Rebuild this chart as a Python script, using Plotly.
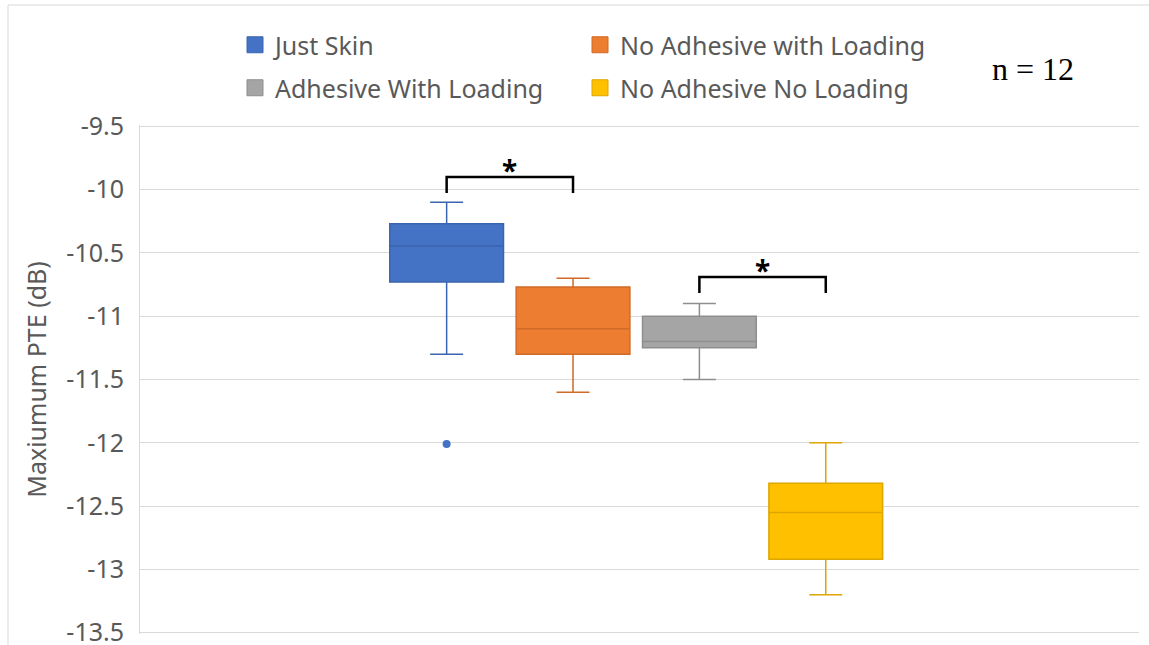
import plotly.graph_objects as go

# Summary statistics of maximum PTE (dB) per condition, n = 12 each
groups = ["Just Skin", "No Adhesive with Loading", "Adhesive With Loading", "No Adhesive No Loading"]
upper_whisker = [-10.10, -10.70, -10.90, -12.00]
q3 = [-10.27, -10.77, -11.00, -12.32]
median = [-10.445, -11.10, -11.20, -12.55]
q1 = [-10.73, -11.30, -11.25, -12.92]
lower_whisker = [-11.30, -11.60, -11.50, -13.20]
outliers = [[-12.01], [], [], []]

fill_colors = ["#4472C4", "#ED7D31", "#A5A5A5", "#FFC000"]
line_colors = ["#3B64AE", "#D06A27", "#8E8E8E", "#DDA600"]

y_ticks = [-9.5, -10, -10.5, -11, -11.5, -12, -12.5, -13, -13.5]
y_tick_labels = ["-9.5", "-10", "-10.5", "-11", "-11.5", "-12", "-12.5", "-13", "-13.5"]

# significance brackets between box pairs (indices into groups) and their heights
pairs = [(0, 1), (2, 3)]
bracket_top = [-9.90, -10.69]
bracket_drop = 0.127

BOXGAP = 0.494
GROUPGAP = 0.1
n = len(groups)
slot = (1 - BOXGAP) / n
centers = [(i - (n - 1) / 2) * slot for i in range(n)]

TEXT_GRAY = "#595959"
GRID = "#D9D9D9"
FONT = "Noto Sans"

# value range padded a hair so the end gridlines are drawn
Y_RANGE = [-13.51, -9.49]

# plot area in pixels, used to place items outside of it
PLOT_L, PLOT_T, PLOT_W, PLOT_H = 140, 125, 999, 509


def px_x(px):
    return (px - PLOT_L) / PLOT_W


def px_y(py):
    return 1 + (PLOT_T - py) / PLOT_H


fig = go.Figure()
for i, g in enumerate(groups):
    if outliers[i]:
        kw = dict(y=[outliers[i]], boxpoints="outliers")
    else:
        kw = dict(boxpoints=False)
    fig.add_trace(go.Box(
        name=g, x=[0], q1=[q1[i]], median=[median[i]], q3=[q3[i]],
        lowerfence=[lower_whisker[i]], upperfence=[upper_whisker[i]],
        fillcolor=fill_colors[i],
        line=dict(color=line_colors[i], width=1.5),
        marker=dict(color=fill_colors[i], size=8, line=dict(width=0)),
        whiskerwidth=0.29, pointpos=0, jitter=0,
        showlegend=False, hoverinfo="skip", **kw))

# legend entries as filled squares, two per row
for i, g in enumerate(groups):
    fig.add_trace(go.Scatter(
        x=[None], y=[None], mode="markers", name=g,
        marker=dict(symbol="square", size=16, color=fill_colors[i],
                    line=dict(color=line_colors[i], width=1)),
        legend="legend" if i < 2 else "legend2"))

shapes = []
annotations = []
for (a, b), top in zip(pairs, bracket_top):
    xa, xb = centers[a], centers[b]
    shapes.append(dict(
        type="path", xref="x", yref="y",
        path=f"M {xa},{top - bracket_drop} L {xa},{top} L {xb},{top} L {xb},{top - bracket_drop}",
        line=dict(color="black", width=2.5)))
    annotations.append(dict(
        x=(xa + xb) / 2, y=top, xref="x", yref="y", text="<b>*</b>", showarrow=False,
        xanchor="center", yanchor="bottom", yshift=-14,
        font=dict(family=FONT, size=28, color="black")))

annotations.append(dict(
    x=px_x(1033), y=px_y(69), xref="paper", yref="paper", text="n = 12",
    showarrow=False, xanchor="center", yanchor="middle",
    font=dict(family="Liberation Serif", size=32, color="black")))

# chart frame
shapes.append(dict(type="rect", xref="paper", yref="paper",
                   x0=px_x(8), x1=1.2, y0=-0.3, y1=px_y(5),
                   line=dict(color=GRID, width=1), layer="below"))

legend_common = dict(orientation="h", xanchor="left", yanchor="top",
                     font=dict(family=FONT, size=25, color=TEXT_GRAY),
                     entrywidth=300, bgcolor="rgba(0,0,0,0)", itemsizing="trace")

fig.update_layout(
    width=1149, height=645,
    margin=dict(l=PLOT_L, r=1149 - PLOT_L - PLOT_W, t=PLOT_T, b=645 - PLOT_T - PLOT_H,
                autoexpand=False),
    paper_bgcolor="white", plot_bgcolor="white",
    boxmode="group", boxgap=BOXGAP, boxgroupgap=GROUPGAP,
    xaxis=dict(range=[-0.5 + 0.0033, 0.5 + 0.0033], showticklabels=False,
               showgrid=False, zeroline=False, showline=False, fixedrange=True,
               automargin=False),
    yaxis=dict(range=Y_RANGE, tickvals=y_ticks, ticktext=y_tick_labels,
               showgrid=True, gridcolor=GRID, gridwidth=1, zeroline=False,
               showline=True, linecolor=GRID, linewidth=1, ticks="",
               ticklabelstandoff=10, ticklabeloverflow="allow", automargin=False,
               tickfont=dict(family=FONT, size=25, color=TEXT_GRAY),
               title=dict(text="Maxiumum PTE (dB)", standoff=12,
                          font=dict(family=FONT, size=25, color=TEXT_GRAY))),
    legend=dict(x=px_x(235), y=px_y(22), **legend_common),
    legend2=dict(x=px_x(235), y=px_y(65), **legend_common),
    shapes=shapes, annotations=annotations,
)

fig.write_html("out.html")
